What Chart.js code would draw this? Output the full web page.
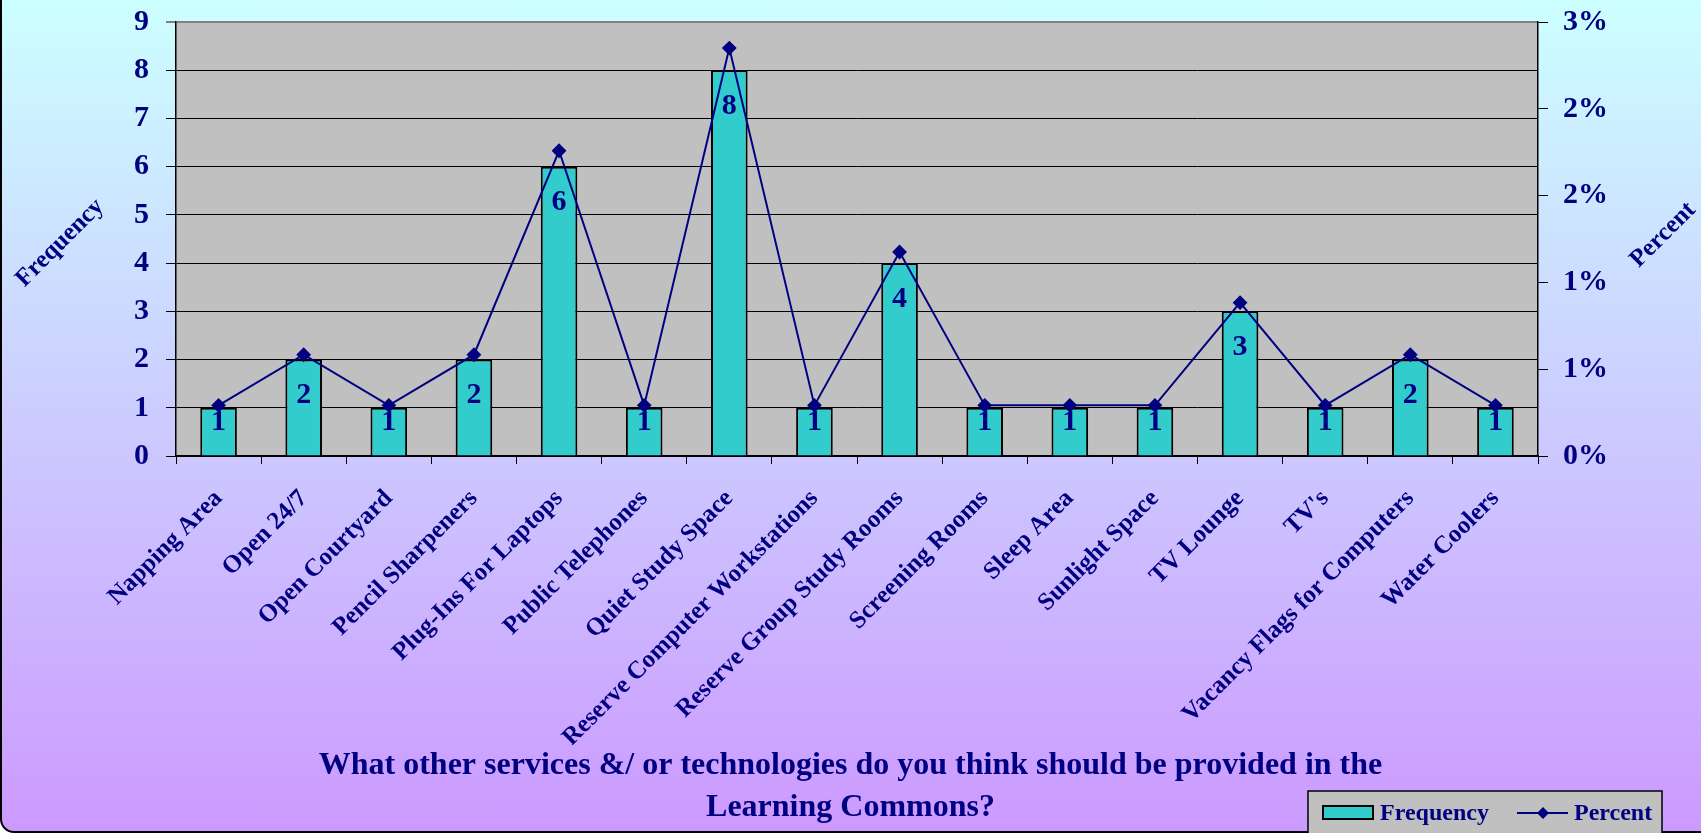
<!DOCTYPE html>
<html>
<head>
<meta charset="utf-8">
<script src="https://cdn.jsdelivr.net/npm/chart.js@4.4.0/dist/chart.umd.min.js"></script>
<style>
  html, body { margin: 0; padding: 0; background: #fff; overflow: hidden; }
  #wrap { position: relative; width: 1701px; height: 833px; overflow: hidden; }
  #frame {
    position: absolute; left: 0; top: -30px; width: 1760px; height: 863px;
    box-sizing: border-box; border: 2px solid #000; border-radius: 14px;
    background: linear-gradient(to bottom, #CCFFFF 30px, #CCCCFF 446px, #CC99FF 863px);
  }
  #chart { position: absolute; left: 0; top: 0; }
</style>
</head>
<body>
<div id="wrap">
  <div id="frame"></div>
  <canvas id="chart" width="1701" height="833"></canvas>
</div>
<script>
const categories = [
  'Napping Area', 'Open 24/7', 'Open Courtyard', 'Pencil Sharpeners', 'Plug-Ins For Laptops',
  'Public Telephones', 'Quiet Study Space', 'Reserve Computer Workstations', 'Reserve Group Study Rooms',
  'Screening Rooms', 'Sleep Area', 'Sunlight Space', 'TV Lounge', "TV's",
  'Vacancy Flags for Computers', 'Water Coolers'
];
const frequency = [1, 2, 1, 2, 6, 1, 8, 1, 4, 1, 1, 1, 3, 1, 2, 1];
const percent = [0.35, 0.70, 0.35, 0.70, 2.11, 0.35, 2.82, 0.35, 1.41, 0.35, 0.35, 0.35, 1.06, 0.35, 0.70, 0.35];
const titleLines = [
  'What other services &/ or technologies do you think should be provided in the',
  'Learning Commons?'
];

const navy = '#000080';
const teal = '#33CCCC';
const serif = "'Liberation Serif', 'Times New Roman', serif";

// gray plot area
const plotBg = {
  id: 'plotBg',
  beforeDraw(chart) {
    const a = chart.chartArea, c = chart.ctx;
    c.save();
    c.fillStyle = '#C0C0C0';
    c.fillRect(a.left, a.top, a.right - a.left, a.bottom - a.top);
    c.restore();
  }
};

// numbers inside the bars
const barLabels = {
  id: 'barLabels',
  afterDatasetDraw(chart, args) {
    if (args.index !== 0) return;
    const c = chart.ctx;
    c.save();
    c.font = 'bold 30px ' + serif;
    c.fillStyle = navy;
    c.textAlign = 'center';
    c.textBaseline = 'middle';
    args.meta.data.forEach((bar, i) => {
      const y = Math.min(bar.y + 36, bar.base - 33);
      c.fillText(String(frequency[i]), bar.x, y);
    });
    c.restore();
  }
};

// rotated axis titles + boxed legend
const extras = {
  id: 'extras',
  afterDraw(chart) {
    const c = chart.ctx;
    c.save();
    c.font = 'bold 25px ' + serif;
    c.fillStyle = navy;
    c.textAlign = 'center';
    c.textBaseline = 'middle';
    [['Frequency', 60, 243], ['Percent', 1663, 235]].forEach(t => {
      c.save();
      c.translate(t[1], t[2]);
      c.rotate(-Math.PI / 4);
      c.fillText(t[0], 0, 0);
      c.restore();
    });

    // legend
    c.fillStyle = '#C0C0C0';
    c.fillRect(1308, 791, 354, 60);
    c.strokeStyle = '#000';
    c.lineWidth = 1.5;
    c.strokeRect(1308, 791, 354, 60);

    c.fillStyle = teal;
    c.fillRect(1323, 806, 50, 13);
    c.lineWidth = 2;
    c.strokeRect(1323, 806, 50, 13);

    c.font = 'bold 24px ' + serif;
    c.fillStyle = navy;
    c.textAlign = 'left';
    const ds = chart.data.datasets;
    c.fillText(ds[0].label, 1380, 814);

    c.strokeStyle = navy;
    c.lineWidth = 2;
    c.beginPath();
    c.moveTo(1517, 813);
    c.lineTo(1568, 813);
    c.stroke();
    c.beginPath();
    c.moveTo(1543, 807); c.lineTo(1549, 813); c.lineTo(1543, 819); c.lineTo(1537, 813);
    c.closePath();
    c.fillStyle = navy;
    c.fill();
    c.fillText(ds[1].label, 1574, 814);
    c.restore();
  }
};

new Chart(document.getElementById('chart'), {
  data: {
    labels: categories,
    datasets: [{
      type: 'bar',
      label: 'Frequency',
      data: frequency,
      backgroundColor: teal,
      borderColor: '#000',
      borderWidth: 2,
      categoryPercentage: 1,
      barPercentage: 0.43,
      yAxisID: 'y',
      order: 2
    }, {
      type: 'line',
      label: 'Percent',
      data: percent,
      borderColor: navy,
      borderWidth: 2,
      pointStyle: 'rectRot',
      pointRadius: 6,
      pointBackgroundColor: navy,
      pointBorderColor: navy,
      tension: 0,
      yAxisID: 'y1',
      order: 1
    }]
  },
  options: {
    responsive: false,
    animation: false,
    layout: { padding: { top: 22, left: 0, right: 0, bottom: 0 } },
    scales: {
      x: {
        offset: true,
        grid: { offset: true, drawOnChartArea: false, drawTicks: true, tickLength: 8, color: '#000' },
        border: { color: '#000', width: 1.5 },
        ticks: {
          autoSkip: false, maxRotation: 45, minRotation: 45, padding: 20,
          color: navy, font: { family: serif, size: 25, weight: 'bold' }
        },
        afterFit(scale) { scale.height = 289; scale.paddingLeft = 0; scale.paddingRight = 0; }
      },
      y: {
        position: 'left',
        min: 0, max: 9,
        ticks: { stepSize: 1, padding: 17, color: navy, font: { family: serif, size: 30, weight: 'bold' } },
        grid: {
          color: ctx => (ctx.tick && ctx.tick.value === 9) ? '#808080' : '#000',
          lineWidth: ctx => (ctx.tick && ctx.tick.value === 9) ? 2 : 1,
          tickLength: 10
        },
        border: { color: '#000', width: 1.5 },
        afterFit(scale) { scale.width = 176; scale.paddingTop = 0; scale.paddingBottom = 0; }
      },
      y1: {
        position: 'right',
        min: 0, max: 3,
        ticks: {
          stepSize: 0.6, padding: 15, color: navy,
          font: { family: serif, size: 30, weight: 'bold' },
          callback: v => Math.round(v) + '%'
        },
        grid: { drawOnChartArea: false, tickLength: 10, color: '#000' },
        border: { color: '#000', width: 1.5 },
        afterFit(scale) { scale.width = 163; scale.paddingTop = 0; scale.paddingBottom = 0; }
      }
    },
    plugins: {
      legend: { display: false },
      tooltip: { enabled: false },
      title: {
        display: true,
        position: 'bottom',
        text: titleLines,
        color: navy,
        font: { family: serif, size: 32, weight: 'bold', lineHeight: '42px' },
        padding: { top: 0, bottom: 4 }
      }
    }
  },
  plugins: [plotBg, barLabels, extras]
});
</script>
</body>
</html>
